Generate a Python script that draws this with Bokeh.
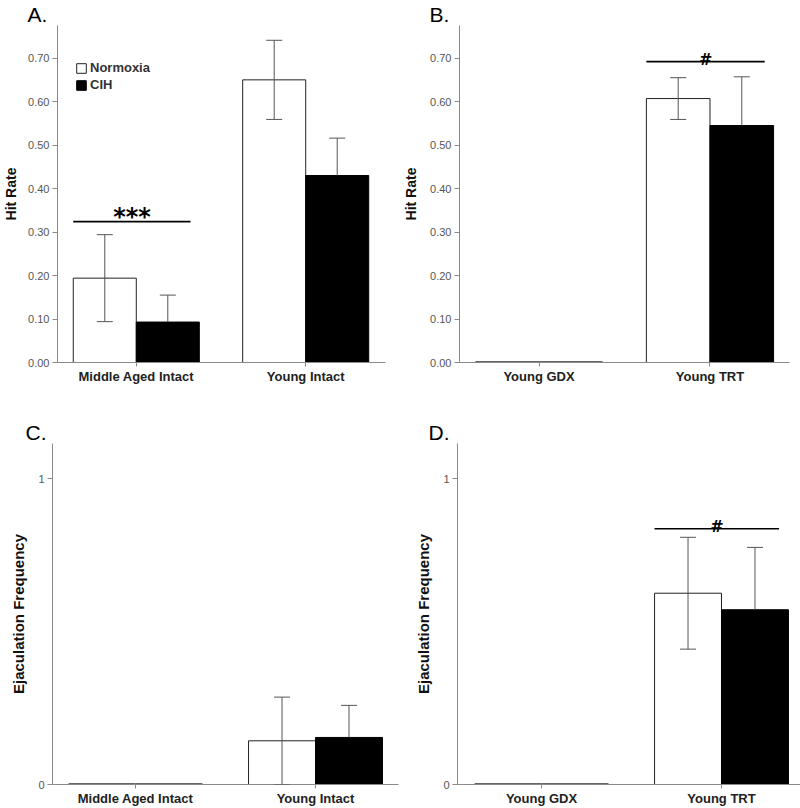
from bokeh.plotting import figure
from bokeh.models import (ColumnDataSource, Whisker, TeeHead, Legend, LegendItem,
                          FixedTicker, NumeralTickFormatter, Range1d)
from bokeh.layouts import column, row
from bokeh.core.properties import value
from bokeh.embed import file_html
from bokeh.resources import INLINE

# ---------------- data ----------------
groups_intact = ["Middle Aged Intact", "Young Intact"]
groups_young = ["Young GDX", "Young TRT"]

hit_norm_A = [0.194, 0.650]
hit_norm_A_sem = [0.100, 0.091]
hit_cih_A = [0.093, 0.430]
hit_cih_A_sem = [0.062, 0.086]

hit_norm_B = [0.0, 0.607]
hit_norm_B_sem = [0.0, 0.048]
hit_cih_B = [0.0, 0.545]
hit_cih_B_sem = [0.0, 0.112]

ejac_norm_C = [0.0, 0.143]
ejac_norm_C_sem = [0.0, 0.143]
ejac_cih_C = [0.0, 0.154]
ejac_cih_C_sem = [0.0, 0.105]

ejac_norm_D = [0.0, 0.626]
ejac_norm_D_sem = [0.0, 0.183]
ejac_cih_D = [0.0, 0.572]
ejac_cih_D_sem = [0.0, 0.204]

hit_ticks = [0.0, 0.1, 0.2, 0.3, 0.4, 0.5, 0.6, 0.7]
ejac_ticks = [0, 1]

series_names = ["Normoxia", "CIH"]

# significance marks: (symbol, group index, height)
sig_A = ("***", 0, 0.324)
sig_B = ("#", 1, 0.692)
sig_D = ("#", 1, 0.837)

# ---------------- style ----------------
BAR_W = 0.372
FONT = "Liberation Sans"
AXIS_COL = "#8a8a8a"
TICK_TXT = "#555555"
ERR_COL = "#555555"


def make_panel(letter, groups, norm, norm_sem, cih, cih_sem, ylabel, yticks, ymax,
               width, height, bl, br, bt, bb, x0, x1, letter_offset,
               ylab_standoff, yfmt=None, sig=None, sig_font="16px", sig_dy=0.003,
               legend_loc=None):
    p = figure(width=width, height=height, x_range=Range1d(x0, x1), y_range=Range1d(0, ymax),
               output_backend="svg", toolbar_location=None,
               min_border_left=bl, min_border_right=br, min_border_top=bt, min_border_bottom=bb)
    p.outline_line_color = None
    p.xgrid.visible = False
    p.ygrid.visible = False
    p.background_fill_color = "white"

    # panel letter as title
    p.title.text = letter
    p.title.text_font = FONT
    p.title.text_font_size = "21px"
    p.title.text_font_style = "normal"
    p.title.text_color = "black"
    p.title.align = "left"
    p.title.offset = letter_offset
    p.title.standoff = 0

    idx = list(range(len(groups)))
    xn = [i - BAR_W / 2 for i in idx]
    xc = [i + BAR_W / 2 for i in idx]

    rn = p.vbar(x=xn, top=norm, width=BAR_W, fill_color="white", line_color="#222222", line_width=1)
    rc = p.vbar(x=xc, top=cih, width=BAR_W, fill_color="black", line_color="black", line_width=1)
    # zero-height bars are shown as a flat line on the baseline
    zx0, zx1, zy = [], [], []
    for xs, vals in ((xn, norm), (xc, cih)):
        for x, v in zip(xs, vals):
            if v == 0:
                zx0.append(x - BAR_W / 2)
                zx1.append(x + BAR_W / 2)
                zy.append(v)
    if zy:
        p.segment(x0=zx0, x1=zx1, y0=zy, y1=zy, line_color="#333333", line_width=2.5)

    # error bars (normoxia full, CIH visible upper part)
    nk = [k for k in idx if norm_sem[k] > 0]
    src_n = ColumnDataSource(dict(x=[xn[k] for k in nk],
                                  lo=[norm[k] - norm_sem[k] for k in nk],
                                  hi=[norm[k] + norm_sem[k] for k in nk]))
    p.add_layout(Whisker(source=src_n, base="x", lower="lo", upper="hi", dimension="height",
                         line_color=ERR_COL, line_width=1, level="annotation",
                         lower_head=TeeHead(size=16, line_color=ERR_COL, line_width=1),
                         upper_head=TeeHead(size=16, line_color=ERR_COL, line_width=1)))
    ck = [k for k in idx if cih_sem[k] > 0]
    src_c = ColumnDataSource(dict(x=[xc[k] for k in ck],
                                  lo=[cih[k] for k in ck],
                                  hi=[cih[k] + cih_sem[k] for k in ck]))
    p.add_layout(Whisker(source=src_c, base="x", lower="lo", upper="hi", dimension="height",
                         line_color=ERR_COL, line_width=1, lower_head=None, level="annotation",
                         upper_head=TeeHead(size=16, line_color=ERR_COL, line_width=1)))

    # axes
    xa = p.xaxis[0]
    xa.ticker = FixedTicker(ticks=idx)
    xa.major_label_overrides = {i: g for i, g in enumerate(groups)}
    xa.major_label_text_font = FONT
    xa.major_label_text_font_size = "13px"
    xa.major_label_text_font_style = "bold"
    xa.major_label_text_color = "#222222"
    xa.axis_line_color = AXIS_COL
    xa.major_tick_line_color = AXIS_COL
    xa.major_tick_out = 4
    xa.major_tick_in = 0
    xa.minor_tick_line_color = None
    xa.major_label_standoff = 2

    ya = p.yaxis[0]
    ya.ticker = FixedTicker(ticks=yticks)
    if yfmt:
        ya.formatter = NumeralTickFormatter(format=yfmt)
    ya.major_label_text_font = FONT
    ya.major_label_text_font_size = "11px"
    ya.major_label_text_color = TICK_TXT
    ya.axis_line_color = AXIS_COL
    ya.major_tick_line_color = AXIS_COL
    ya.major_tick_out = 5
    ya.major_tick_in = 0
    ya.minor_tick_line_color = None
    ya.major_label_standoff = 3
    ya.axis_label = ylabel
    ya.axis_label_text_font = FONT
    ya.axis_label_text_font_size = "14px" if ylabel == "Hit Rate" else "15px"
    ya.axis_label_text_font_style = "bold"
    ya.axis_label_text_color = "#111111"
    ya.axis_label_standoff = ylab_standoff

    # significance
    if sig is not None:
        mark, g, ys = sig
        p.line(x=[g - BAR_W, g + 0.32], y=[ys, ys], line_color="black", line_width=1.6)
        p.text(x=[g - 0.025], y=[ys + sig_dy], text=[mark], text_font=value("DejaVu Sans"),
               text_font_style="bold", text_font_size=sig_font, text_color="black",
               text_align="center", text_baseline="alphabetic")

    if legend_loc is not None:
        leg = Legend(items=[LegendItem(label=series_names[0], renderers=[rn]),
                            LegendItem(label=series_names[1], renderers=[rc])],
                     location=legend_loc, glyph_width=12, glyph_height=12,
                     label_text_font=FONT, label_text_font_size="13px",
                     label_text_font_style="bold", label_text_color="#333333",
                     padding=0, margin=0, spacing=2, label_standoff=3,
                     border_line_color=None, background_fill_alpha=0)
        p.add_layout(leg)
    return p


pa = make_panel("A.", groups_intact, hit_norm_A, hit_norm_A_sem, hit_cih_A, hit_cih_A_sem,
                "Hit Rate", hit_ticks, 0.775, 400, 400, 52, 15, 22, 38,
                -0.4651, 1.471, -30, 6, yfmt="0.00",
                sig=sig_A, sig_font="24px", sig_dy=0.010, legend_loc=(18, 270))
pb = make_panel("B.", groups_young, hit_norm_B, hit_norm_B_sem, hit_cih_B, hit_cih_B_sem,
                "Hit Rate", hit_ticks, 0.775, 400, 400, 57, 11, 22, 38,
                -0.465, 1.465, -30, 8, yfmt="0.00",
                sig=sig_B, sig_font="16px", sig_dy=0.004)
pc = make_panel("C.", groups_intact, ejac_norm_C, ejac_norm_C_sem, ejac_cih_C, ejac_cih_C_sem,
                "Ejaculation Frequency", ejac_ticks, 1.116, 400, 408, 52, 2, 43, 22,
                -0.461, 1.461, -27, 8)
pd_ = make_panel("D.", groups_young, ejac_norm_D, ejac_norm_D_sem, ejac_cih_D, ejac_cih_D_sem,
                 "Ejaculation Frequency", ejac_ticks, 1.116, 400, 408, 57, 0, 43, 22,
                 -0.467, 1.439, -29, 8,
                 sig=sig_D, sig_font="16px", sig_dy=0.008)

layout = column(row(pa, pb), row(pc, pd_))
open("out.html", "w").write(file_html(layout, INLINE))
